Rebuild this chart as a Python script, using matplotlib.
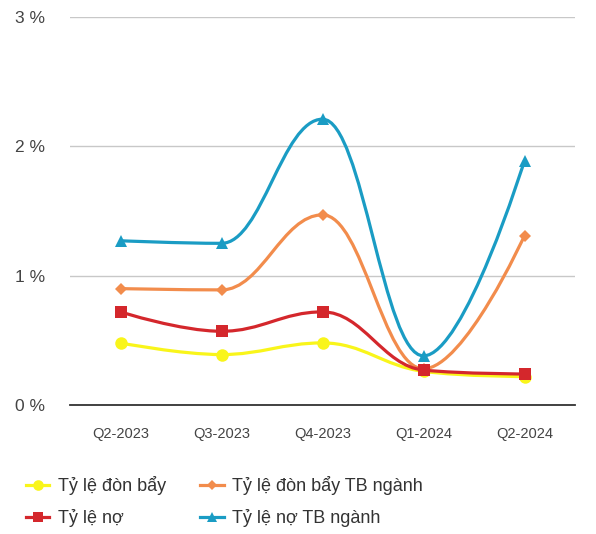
import matplotlib
matplotlib.use("Agg")
import matplotlib.pyplot as plt
from matplotlib.path import Path
from matplotlib.patches import PathPatch
from matplotlib.lines import Line2D

plt.rcParams["font.family"] = ["Liberation Sans", "DejaVu Sans"]

categories = ["Q2-2023", "Q3-2023", "Q4-2023", "Q1-2024", "Q2-2024"]
don_bay = [0.48, 0.39, 0.48, 0.26, 0.22]
don_bay_tb = [0.90, 0.89, 1.47, 0.28, 1.31]
no = [0.72, 0.57, 0.72, 0.27, 0.24]
no_tb = [1.27, 1.25, 2.21, 0.38, 1.89]
yticks = [0, 1, 2, 3]
ytick_labels = ["0 %", "1 %", "2 %", "3 %"]

series = [
    ("Tỷ lệ đòn bẩy", don_bay, "#f9f51a", "o", 9),
    ("Tỷ lệ đòn bẩy TB ngành", don_bay_tb, "#f28c4c", "D", 6.5),
    ("Tỷ lệ nợ", no, "#d4272c", "s", 9),
    ("Tỷ lệ nợ TB ngành", no_tb, "#1a9cc4", "^", 9),
]


def spline_path(xs, ys):
    """Highcharts-style spline (smoothing 1.5) as cubic Bezier path."""
    n = len(xs)
    left = [None] * n
    right = [None] * n
    sm, den = 1.5, 2.5
    for i in range(1, n - 1):
        px, py = xs[i], ys[i]
        lx, ly = xs[i - 1], ys[i - 1]
        nx, ny = xs[i + 1], ys[i + 1]
        lcx = (sm * px + lx) / den
        lcy = (sm * py + ly) / den
        rcx = (sm * px + nx) / den
        rcy = (sm * py + ny) / den
        if rcx != lcx:
            corr = ((rcy - lcy) * (rcx - px)) / (rcx - lcx) + py - rcy
            lcy += corr
            rcy += corr
        if lcy > ly and lcy > py:
            lcy = max(ly, py)
            rcy = 2 * py - lcy
        elif lcy < ly and lcy < py:
            lcy = min(ly, py)
            rcy = 2 * py - lcy
        if rcy > ny and rcy > py:
            rcy = max(ny, py)
            lcy = 2 * py - rcy
        elif rcy < ny and rcy < py:
            rcy = min(ny, py)
            lcy = 2 * py - rcy
        left[i] = (lcx, lcy)
        right[i] = (rcx, rcy)
    verts = [(xs[0], ys[0])]
    codes = [Path.MOVETO]
    for i in range(1, n):
        c1 = right[i - 1] if right[i - 1] is not None else (xs[i - 1], ys[i - 1])
        c2 = left[i] if left[i] is not None else (xs[i], ys[i])
        verts += [c1, c2, (xs[i], ys[i])]
        codes += [Path.CURVE4] * 3
    return Path(verts, codes)


fig = plt.figure(figsize=(5.96, 5.34), dpi=100)
ax = fig.add_axes([70 / 596, (534 - 405) / 534, (575 - 70) / 596, (405 - 17) / 534])

x = list(range(len(categories)))
handles = []
for z, (name, vals, color, marker, ms) in enumerate(series):
    patch = PathPatch(spline_path(x, vals), facecolor="none", edgecolor=color,
                      lw=2.3, zorder=3 + z, capstyle="round", joinstyle="round")
    ax.add_patch(patch)
    ax.plot(x, vals, linestyle="none", marker=marker, ms=ms, color=color,
            markeredgewidth=0, zorder=3.5 + z)
    handles.append(Line2D([0], [0], color=color, lw=2.3, marker=marker,
                          ms=ms * 0.85, markeredgewidth=0, label=name))

ax.set_xlim(-0.5, len(categories) - 0.5)
ax.set_ylim(0, 3)
ax.set_yticks(yticks)
ax.set_yticklabels(ytick_labels)
ax.set_xticks(x)
ax.set_xticklabels(categories)
ax.grid(axis="y", color="#c8c8c8", lw=1)
ax.set_axisbelow(True)
for s in ["top", "right", "left"]:
    ax.spines[s].set_visible(False)
ax.spines["bottom"].set_color("#333333")
ax.spines["bottom"].set_linewidth(1.3)
ax.spines["bottom"].set_zorder(2)
ax.tick_params(axis="both", length=0)
ax.tick_params(axis="y", pad=18, labelsize=12.5, labelcolor="#444444")
ax.tick_params(axis="x", pad=16, labelsize=10.5, labelcolor="#444444")

order = [handles[0], handles[2], handles[1], handles[3]]
fig.legend(handles=order, labels=[h.get_label() for h in order], ncol=2,
           loc="upper left", bbox_to_anchor=(26 / 596, 1 - 476 / 534),
           frameon=False, fontsize=13, handlelength=1.3, handletextpad=0.45,
           columnspacing=1.9, labelspacing=0.78, borderaxespad=0, borderpad=0,
           labelcolor="#333333")

fig.savefig("out.png", dpi=100)
